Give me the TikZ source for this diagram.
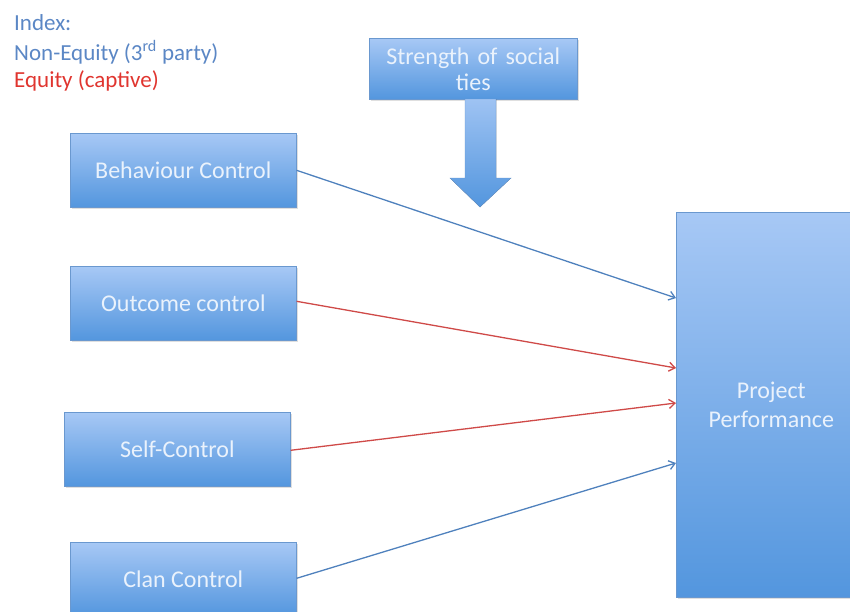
\documentclass[tikz,border=0pt]{standalone}
\usepackage{fontspec}
\setmainfont{Carlito}
\usetikzlibrary{arrows.meta,shadows,calc}
\definecolor{legblue}{HTML}{5B87C5}
\definecolor{legred}{HTML}{E0352F}
\definecolor{linkblue}{HTML}{4F81BD}
\definecolor{linkred}{HTML}{CF4A48}
\definecolor{boxtop}{HTML}{A7C8F5}
\definecolor{boxbot}{HTML}{5396DE}
\definecolor{boxedge}{HTML}{6A98CF}
\definecolor{boxtext}{HTML}{EAF2FC}
\tikzset{
  ctrlbox/.style={rectangle, anchor=north west, inner sep=2pt,
    top color=boxtop, bottom color=boxbot, draw=boxedge, line width=0.6pt,
    text=boxtext, font=\fontsize{24}{28}\selectfont, align=center,
    drop shadow={shadow xshift=1.5pt, shadow yshift=-1.5pt, opacity=0.25}},
  link/.style={line width=1.3pt, -{Straight Barb[length=6pt,width=9pt,line width=1.3pt]}},
  legend/.style={anchor=west, inner sep=0pt, font=\fontsize{23}{27}\selectfont}
}
\begin{document}
\begin{tikzpicture}[x=1pt,y=-1pt]
\useasboundingbox (0,0) rectangle (850,611);
\clip (0,0) rectangle (850,611);
% legend
\node[legend, text=legblue] (idx) at (14,23) {Index:};
\node[legend, text=legblue] (neq) at (14,52) {Non-Equity (3\textsuperscript{rd} party)};
\node[legend, text=legred] (eq) at (14,81) {Equity (captive)};
% boxes
\node[ctrlbox, minimum width=226pt, minimum height=74pt] (bc) at (70,133) {Behaviour Control};
\node[ctrlbox, minimum width=226pt, minimum height=74pt] (oc) at (70,266) {Outcome control};
\node[ctrlbox, minimum width=226pt, minimum height=74pt] (sc) at (64,412) {Self-Control};
\node[ctrlbox, minimum width=226pt, minimum height=74pt] (cc) at (70,542) {Clan Control};
\node[ctrlbox, minimum width=208pt, minimum height=61pt, text width=200pt] (st) at (369,38) {Strength of social\\[-2pt]ties};
\node[ctrlbox, minimum width=190pt, minimum height=385pt, text width=170pt] (pp) at (676,212) {Project\\[1pt]Performance};
% big arrow
\coordinate (tip) at (480,207);
\fill[top color=boxtop!90!boxbot, bottom color=boxbot, draw=boxedge, line width=0.4pt]
  (465,99) -- (496,99) -- (496,178) -- (511,178)
  -- (tip) -- (450,178) -- (465,178) -- cycle;
% links
\draw[link, linkblue] (bc.east) -- (676,298);
\draw[link, linkred] ($(oc.east)+(0,-2)$) -- (676,368);
\draw[link, linkred] ($(sc.east)+(0,1)$) -- (676,403);
\draw[link, linkblue] ($(cc.east)+(0,-1)$) -- (676,463);
\end{tikzpicture}
\end{document}
